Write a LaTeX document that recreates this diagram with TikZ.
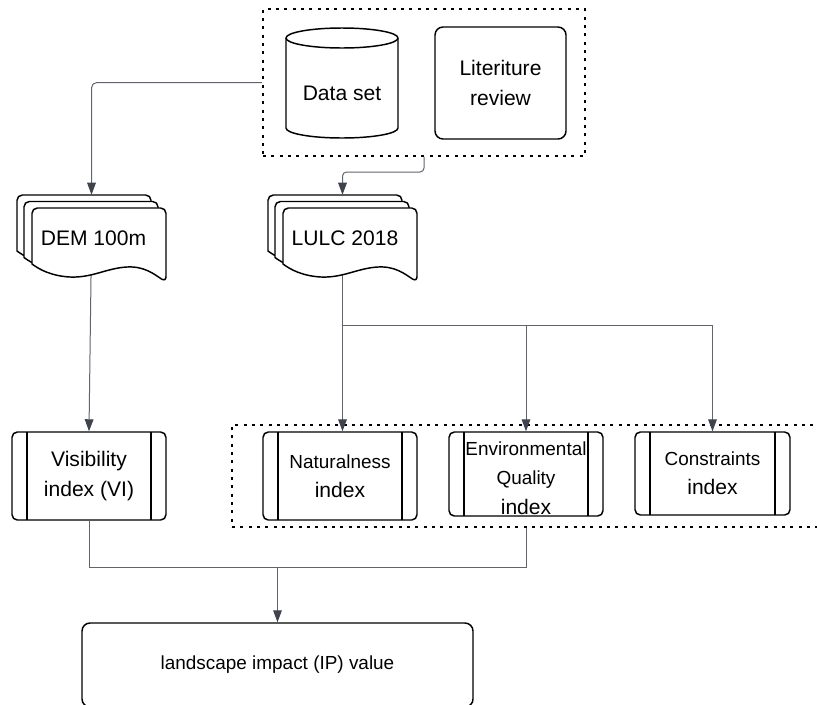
\documentclass[tikz,border=0pt]{standalone}
\usepackage{fontspec}
\setmainfont{Liberation Sans}
\usetikzlibrary{arrows.meta,calc}
\definecolor{connc}{RGB}{95,100,110}
\definecolor{tipc}{RGB}{62,67,77}
\newcommand\bigf{\fontsize{15.8}{22}\selectfont}
\newcommand\smallf{\fontsize{14.2}{22}\selectfont}
\begin{document}
\begin{tikzpicture}[x=0.75pt,y=-0.75pt,
  boxline/.style={draw=black,line width=1.1pt},
  procbox/.style={boxline,rounded corners=4pt,fill=white,inner sep=0pt,align=center,font=\bigf,
    minimum width=115.5pt,minimum height=66pt,
    path picture={
      \draw[line width=1.1pt] ([xshift=11.25pt]path picture bounding box.north west) -- ([xshift=11.25pt]path picture bounding box.south west);
      \draw[line width=1.1pt] ([xshift=-11.25pt]path picture bounding box.north east) -- ([xshift=-11.25pt]path picture bounding box.south east);}},
  dotgrp/.style={draw=black,line width=1.3pt,dash pattern=on 2.25pt off 4pt,inner sep=0pt},
  plainbox/.style={boxline,fill=white,rounded corners=6pt,inner sep=0pt,align=center,font=\bigf},
  conn/.style={draw=connc,line width=0.75pt,-{Triangle[length=9pt,width=6.5pt,color=tipc]}},
  connline/.style={draw=connc,line width=0.75pt},
  docpic/.pic={\draw[boxline,fill=white] (0,56) [rounded corners=4pt] -- (0,0) -- (134,0) -- (134,74) [sharp corners]
      .. controls (122,66) and (112,58) .. (95,59)
      .. controls (75,60) and (60,70) .. (38,69)
      .. controls (20,68) and (8,62) .. (0,56) -- cycle;}
]
\useasboundingbox (0,0) rectangle (817,704);
\clip (0,0) rectangle (817,704);

% top group
\node[dotgrp,minimum width=241.5pt,minimum height=110.25pt] (grp1) at (424,82.5) {};
\draw[boxline,fill=white] (286,38) -- (286,128)
  arc[start angle=180,end angle=360,x radius=42pt,y radius=7.5pt] -- (398,38)
  arc[start angle=0,end angle=180,x radius=42pt,y radius=7.5pt] -- cycle;
\draw[boxline] (286,38) arc[start angle=180,end angle=360,x radius=42pt,y radius=7.5pt];
\node[font=\bigf] (data) at (342,93) {Data set};
\node[plainbox,minimum width=98.25pt,minimum height=84pt] (lit) at (500.5,83) {Literiture\\review};

% lower group
\node[dotgrp,minimum width=448.5pt,minimum height=76.5pt] (grp2) at (531,476) {};
\node[procbox] (vis) at (89,476) {Visibility\\index (VI)};
\node[procbox] (nat) at (340,476) {{\smallf Naturalness}\\index};
\node[procbox,minimum height=63pt] (env) at (526,474) {{\smallf\rule{0pt}{16.5pt}Environmental}\\{\smallf Quality}\\index};
\node[procbox,minimum width=116.25pt,minimum height=62.25pt] (con) at (712.5,473.5) {{\smallf Constraints}\\index};
\node[plainbox,minimum width=293.25pt,minimum height=63pt,font=\smallf] (land) at (277.5,665) {landscape impact (IP) value};

% document groups (extent only)
\node[minimum width=111.75pt,minimum height=66.75pt,inner sep=0pt] (dem) at (91.5,239.5) {};
\node[minimum width=111.75pt,minimum height=66.75pt,inner sep=0pt] (lulc) at (342.5,239.5) {};

% connectors leaving the documents (hidden under them)
\draw[conn] (dem.center) -- (vis.north);
\coordinate (split) at (342.5,325);
\draw[connline] (lulc.center) -- (split);
\draw[conn] (split) -- (split |- nat.north);
\draw[conn] (split) -| (env.north);
\draw[conn] (split) -| (con.north);

% documents
\pic at (17,195) {docpic};
\pic at (24,201.5) {docpic};
\pic at (32,208) {docpic};
\pic at (268,195) {docpic};
\pic at (275,201.5) {docpic};
\pic at (283,208) {docpic};
\node[font=\bigf] (demtxt) at (93.5,238) {DEM 100m};
\node[font=\bigf] (lulctxt) at (345,238) {LULC 2018};

% connectors into the documents
\draw[conn,rounded corners=4pt] (grp1.west) -| (dem.north);
\coordinate (bend) at (424,172);
\draw[conn,rounded corners=3pt] (grp1.south) -- (bend) -| (lulc.north);

% bottom join
\coordinate (join) at (277.5,567);
\draw[connline] (vis.south) |- (join);
\draw[connline] (env.south |- grp2.south) |- (join);
\draw[conn] (join) -- (land.north);
\end{tikzpicture}
\end{document}
